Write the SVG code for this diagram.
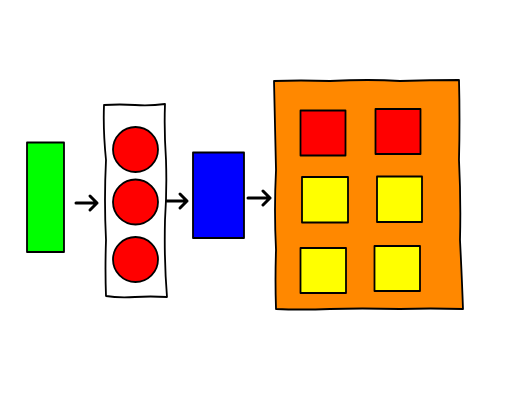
<svg xmlns="http://www.w3.org/2000/svg" width="512" height="409" viewBox="0 0 512 409">
<style>
.s{stroke:#000;stroke-width:1.8;stroke-linejoin:round}
.a{fill:none;stroke:#000;stroke-width:3;stroke-linecap:round;stroke-linejoin:round}
</style>
<rect width="512" height="409" fill="#fff"/>
<g id="input"><rect class="s" x="27" y="142.5" width="37" height="109.5" fill="#00ff00"/></g>
<g id="layer1">
<path class="s" fill="#fff" d="M104,105 Q120,104 135,105 Q150,106 165,104 Q164,130 166,160 Q167,190 165,220 Q164,260 167,297 Q150,296 135,297 Q118,298 106,296 Q105,270 106,240 Q104,200 106,160 Q103,130 104,105 Z"/>
<circle class="s" cx="135.5" cy="149.5" r="22.5" fill="#ff0000"/>
<circle class="s" cx="135.5" cy="202" r="22.5" fill="#ff0000"/>
<circle class="s" cx="135.5" cy="259.5" r="22.5" fill="#ff0000"/>
</g>
<g id="layer2"><rect class="s" x="193" y="152.5" width="51" height="85.5" fill="#0000ff"/></g>
<g id="output">
<path class="s" fill="#ff8800" d="M274,81 Q300,80 330,81 Q370,79 400,81 Q430,80 459,80 Q460,120 459,160 Q461,200 460,240 Q462,280 463,309 Q430,308 400,309 Q360,308 330,309 Q300,310 276,309 Q275,280 276,250 Q274,210 276,170 Q275,130 274,81 Z"/>
<rect class="s" x="300.5" y="110.5" width="45" height="45" fill="#ff0000"/>
<rect class="s" x="375.5" y="109" width="45" height="45" fill="#ff0000"/>
<rect class="s" x="302" y="177" width="46" height="45.5" fill="#ffff00"/>
<rect class="s" x="377" y="176.5" width="45" height="45.5" fill="#ffff00"/>
<rect class="s" x="300.5" y="248" width="45.5" height="45" fill="#ffff00"/>
<rect class="s" x="374.5" y="246" width="45.5" height="45" fill="#ffff00"/>
</g>
<g id="connectors">
<path class="a" d="M76,203 H97 M90,196 L97,203 L90,210"/>
<path class="a" d="M167,201 H187 M180,194 L187,201 L180,208"/>
<path class="a" d="M248,198 H270 M263,191 L270,198 L263,205"/>
</g>
</svg>
